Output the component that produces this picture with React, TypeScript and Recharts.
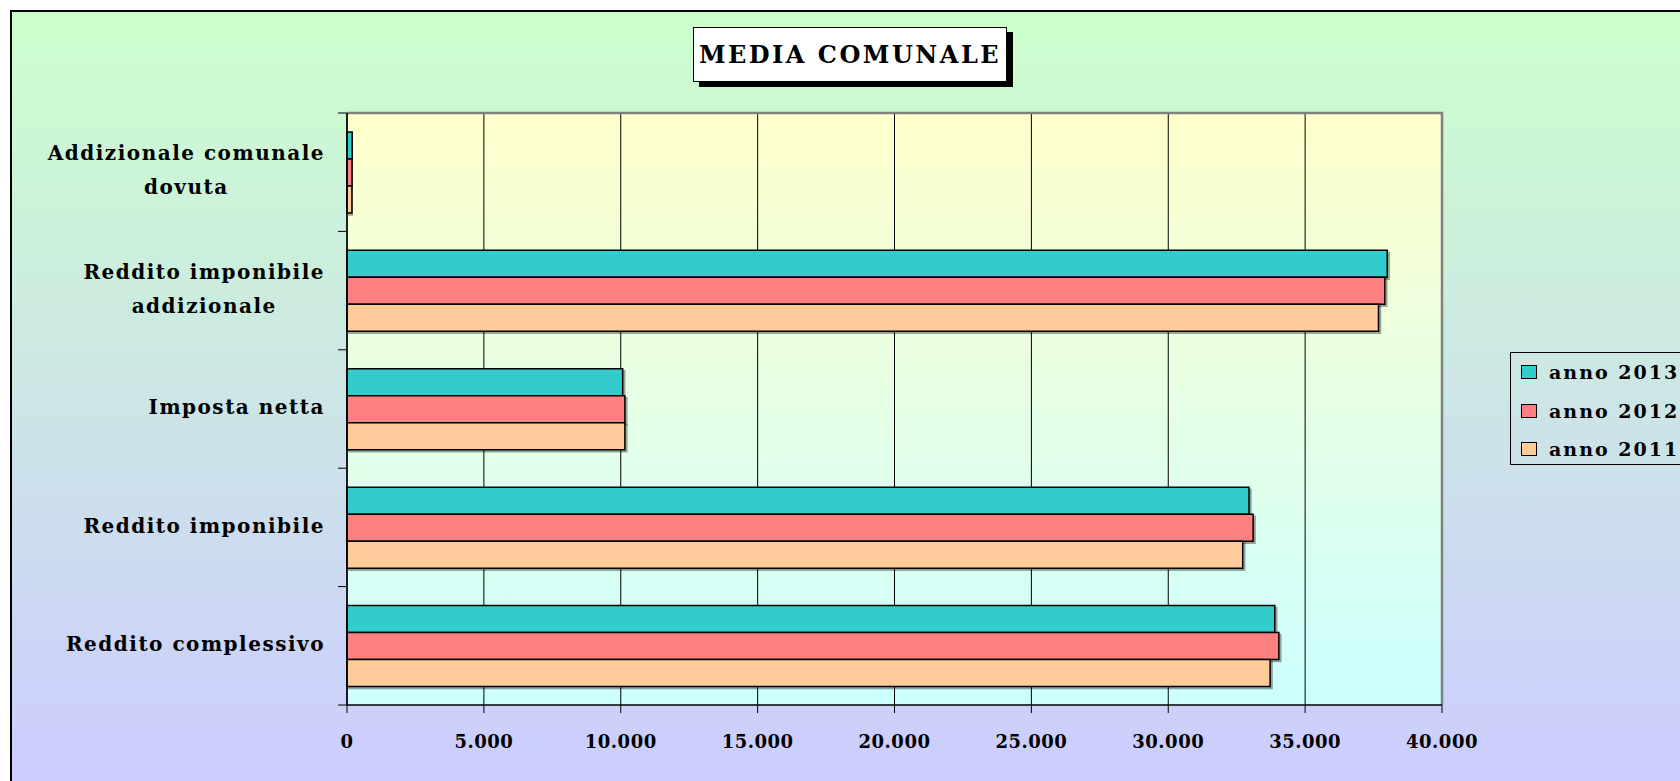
import { BarChart, Bar, XAxis, YAxis, CartesianGrid, Legend, ReferenceArea } from "recharts";

const categories = [
  "Addizionale comunale\ndovuta",
  "Reddito imponibile\naddizionale",
  "Imposta netta",
  "Reddito imponibile",
  "Reddito complessivo",
];
const anno2013 = [190, 38000, 10070, 32950, 33890];
const anno2012 = [185, 37910, 10150, 33100, 34040];
const anno2011 = [180, 37680, 10150, 32720, 33720];
const seriesNames = ["anno 2013", "anno 2012", "anno 2011"];
const seriesColors = ["#33CCCC", "#FF8080", "#FFCC99"];
const xTicks = [0, 5000, 10000, 15000, 20000, 25000, 30000, 35000, 40000];

const data = categories.map((name, i) => ({
  name,
  a2013: anno2013[i],
  a2012: anno2012[i],
  a2011: anno2011[i],
}));
const seriesKeys = ["a2013", "a2012", "a2011"];

const FONT = "'DejaVu Serif', serif";
const PLOT_H = 592;
const BAND = PLOT_H / categories.length;

let ctx: CanvasRenderingContext2D | null = null;
function textWidth(s: string, size: number, spacing: number) {
  if (!ctx) ctx = document.createElement("canvas").getContext("2d");
  if (!ctx) return s.length * size * 0.6;
  ctx.font = `bold ${size}px 'DejaVu Serif'`;
  return ctx.measureText(s).width + spacing * s.length;
}

const fmt = (v: number) => String(v).replace(/\B(?=(\d{3})+(?!\d))/g, ".");

function CategoryTick(props: any) {
  const { x, y, payload, index } = props;
  const lines = String(payload.value).split("\n");
  const widths = lines.map((l) => textWidth(l, 20, 1.5));
  const blockW = Math.max(...widths);
  const cx = x - blockW / 2;
  const first = lines.length > 1 ? -19 : -2;
  return (
    <g>
      <line x1={x + 13} x2={x + 22} y1={y - BAND / 2} y2={y - BAND / 2} stroke="#000" />
      {index === categories.length - 1 && (
        <line x1={x + 13} x2={x + 22} y1={y + BAND / 2} y2={y + BAND / 2} stroke="#000" />
      )}
      {lines.map((l, i) => (
        <text
          key={i}
          x={lines.length > 1 ? cx : x}
          y={y + first + i * 34}
          dy="0.36em"
          textAnchor={lines.length > 1 ? "middle" : "end"}
          fontFamily={FONT}
          fontWeight="bold"
          fontSize={20}
          letterSpacing={1.5}
          fill="#000"
        >
          {l}
        </text>
      ))}
    </g>
  );
}

function LegendBox() {
  return (
    <div
      style={{
        border: "1px solid #000",
        width: 200,
        height: 113,
        boxSizing: "border-box",
        paddingTop: 0,
      }}
    >
      {seriesNames.map((name, i) => (
        <div key={name} style={{ display: "flex", alignItems: "center", height: 38.5 }}>
          <span
            style={{
              display: "inline-block",
              width: 14,
              height: 12,
              marginLeft: 10,
              marginRight: 12,
              background: seriesColors[i],
              border: "1.5px solid #000",
            }}
          />
          <span style={{ fontFamily: FONT, fontWeight: "bold", fontSize: 19, letterSpacing: 2, color: "#000" }}>
            {name}
          </span>
        </div>
      ))}
    </div>
  );
}

export default function App() {
  return (
    <div style={{ position: "absolute", left: 0, top: 0, width: 1680, height: 781, overflow: "hidden" }}>
      <div
        style={{
          position: "absolute",
          left: 10,
          top: 10,
          width: 1720,
          height: 820,
          boxSizing: "border-box",
          border: "2px solid #000",
          background: "linear-gradient(to bottom, #CCFFCC 0px, #CCCCFF 771px)",
        }}
      />
      <div
        style={{
          position: "absolute",
          left: 693,
          top: 27,
          width: 314,
          height: 55,
          boxSizing: "border-box",
          background: "#fff",
          border: "1px solid #000",
          boxShadow: "6px 5px 0 #000",
          display: "flex",
          alignItems: "center",
          justifyContent: "center",
          fontFamily: FONT,
          fontWeight: "bold",
          fontSize: 24,
          letterSpacing: 2.5,
          color: "#000",
          zIndex: 2,
        }}
      >
        MEDIA COMUNALE
      </div>
      <div style={{ position: "absolute", left: 0, top: 0 }}>
        <BarChart
          width={1680}
          height={781}
          data={data}
          layout="vertical"
          margin={{ top: 113, right: 238, bottom: 36, left: 0 }}
          barCategoryGap="16%"
          barGap={0}
        >
          <defs>
            <linearGradient id="plotBg" x1="0" y1="0" x2="0" y2="1">
              <stop offset="0%" stopColor="#FFFFCC" />
              <stop offset="100%" stopColor="#CCFFFF" />
            </linearGradient>
            <filter id="barShadow" x="-5%" y="-20%" width="115%" height="160%">
              <feDropShadow dx="2" dy="2" stdDeviation="0.6" floodColor="#000" floodOpacity="0.35" />
            </filter>
          </defs>
          <CartesianGrid horizontal={false} stroke="#000" fill="url(#plotBg)" fillOpacity={1} />
          <ReferenceArea
            x1={0}
            x2={40000}
            fill="none"
            stroke="#808080"
            strokeWidth={2.5}
            strokeDasharray="1687 1687"
            ifOverflow="visible"
          />
          <XAxis
            type="number"
            domain={[0, 40000]}
            ticks={xTicks}
            tickFormatter={fmt}
            height={40}
            tickSize={8}
            tickMargin={22}
            axisLine={{ stroke: "#000", strokeWidth: 1.5 }}
            tickLine={{ stroke: "#000" }}
            tick={{ fontFamily: FONT, fontWeight: "bold", fontSize: 18, letterSpacing: 0.5, fill: "#000" }}
            interval={0}
          />
          <YAxis
            type="category"
            dataKey="name"
            width={347}
            tickSize={9}
            tickMargin={13}
            tickLine={false}
            axisLine={{ stroke: "#000", strokeWidth: 1.5 }}
            tick={<CategoryTick />}
            interval={0}
          />
          {seriesKeys.map((k, i) => (
            <Bar
              key={k}
              dataKey={k}
              name={seriesNames[i]}
              fill={seriesColors[i]}
              stroke="#000"
              strokeWidth={1.5}
              filter="url(#barShadow)"
              isAnimationActive={false}
            />
          ))}
          <Legend
            layout="horizontal"
            align="center"
            verticalAlign="middle"
            content={<LegendBox />}
            wrapperStyle={{ left: 1510, top: 352, width: 200, height: 113 }}
          />
        </BarChart>
      </div>
    </div>
  );
}
